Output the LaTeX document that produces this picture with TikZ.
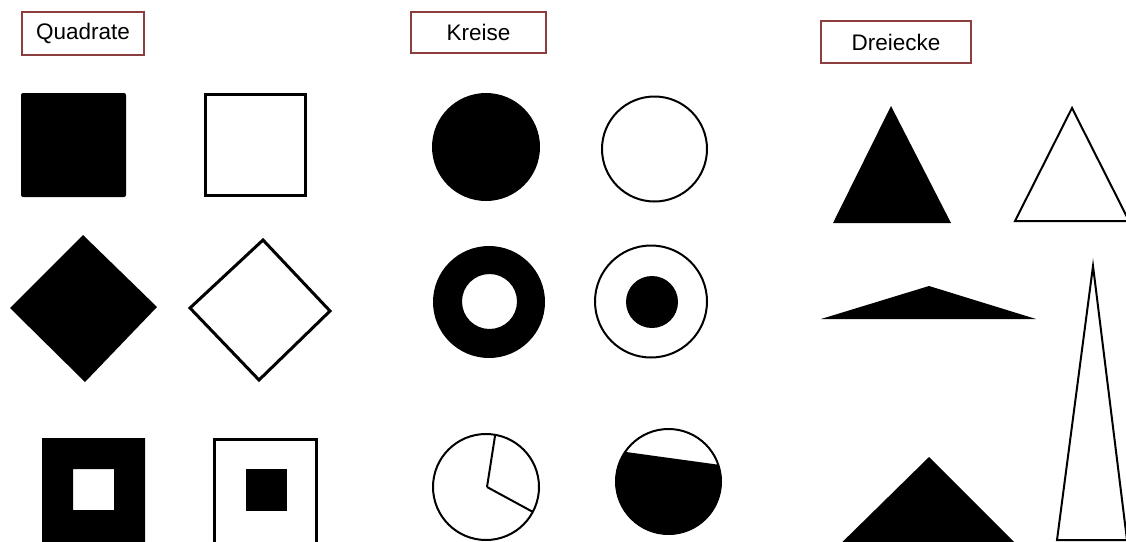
\documentclass[tikz,border=0pt]{standalone}
\usepackage{fontspec}
\setmainfont{Liberation Sans}
\definecolor{boxred}{RGB}{140,62,62}
\begin{document}
\begin{tikzpicture}[x=1pt,y=-1pt,
  labelbox/.style={draw=boxred,line width=1.3pt,fill=white,inner sep=0pt,font=\fontsize{22.5}{26}\selectfont},
  solidshape/.style={fill=black,line join=round},
  thickoutline/.style={draw=black,line width=3pt,line join=miter},
  thinoutline/.style={draw=black,line width=2pt,line join=miter}]
\useasboundingbox (0,0) rectangle (1126,541);
\clip (0,0) rectangle (1126,541);
\fill[white] (0,0) rectangle (1126,541);

% labels
\node[labelbox,minimum width=122pt,minimum height=43pt] (lq) at (83,33.5) {Quadrate};
\node[labelbox,minimum width=135pt,minimum height=41pt] (lk) at (478.5,32.5) {Kreise};
\node[labelbox,minimum width=150pt,minimum height=42pt] (ld) at (896,42) {Dreiecke};

% squares
\fill[solidshape,rounded corners=2pt] (21,93) rectangle (126,197);
\draw[thickoutline] (205.5,94.5) rectangle (305.5,195.5);
\fill[solidshape] (83,235) -- (157,307) -- (85,382) -- (10,308) -- cycle;
\draw[thickoutline] (263,240) -- (330,311) -- (259,380) -- (190,308) -- cycle;
\fill[solidshape,even odd rule] (42,438) rectangle (145,560) (73,469) rectangle (114,510);
\draw[thickoutline] (214.5,439.5) rectangle (316.5,560);
\fill[solidshape] (246,469) rectangle (287,511);

% circles
\fill (486,147) circle[radius=54];
\draw[thinoutline] (654.5,149) circle[radius=52.5];
\fill[even odd rule] (489,302) circle[radius=56] (489.5,301.5) circle[radius=27.5];
\draw[thinoutline] (651,301.5) circle[radius=56];
\fill (652,302) circle[radius=26];
\draw[thinoutline] (486,487) circle[radius=53];
\draw[thinoutline] (487,487) -- (495,436);
\draw[thinoutline] (487,487) -- (533,512);
\fill (668.5,481.5) ++(-18.4:53) arc[start angle=-18.4, end angle=214.1, radius=53] -- cycle;
\draw[thinoutline] (668.5,481.5) circle[radius=52.5];

% triangles
\fill[solidshape] (891,106) -- (951,223) -- (833,223) -- cycle;
\draw[thinoutline] (1072,108) -- (1129,221) -- (1015,221) -- cycle;
\fill[solidshape] (929,286) -- (1036,319) -- (821,319) -- cycle;
\draw[thinoutline] (1093,266) -- (1127,540) -- (1057,540) -- cycle;
\fill[solidshape] (929,457) -- (1033,561) -- (823,561) -- cycle;
\end{tikzpicture}
\end{document}
